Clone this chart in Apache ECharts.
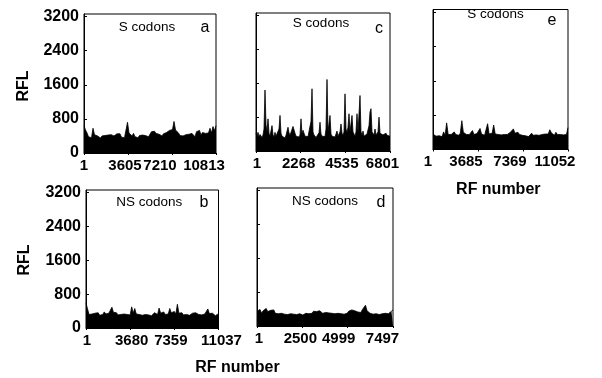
<!DOCTYPE html>
<html><head><meta charset="utf-8">
<script src="https://cdn.jsdelivr.net/npm/echarts@6/dist/echarts.min.js"></script>
<style>html,body{margin:0;padding:0;background:#fff}#chart{width:602px;height:378px}</style>
</head><body><div id="chart"></div>
<script>
// ---- data ----
const countA = 10813, countB = 11037, countC = 6801, countD = 7497, countE = 11052;
const xTicksA = [1, 3605, 7210, 10813];
const xTicksB = [1, 3680, 7359, 11037];
const xTicksC = [1, 2268, 4535, 6801];
const xTicksD = [1, 2500, 4999, 7497];
const xTicksE = [1, 3685, 7369, 11052];
const yTicks = [0, 800, 1600, 2400, 3200];

const rflA = [640,540,470,380,400,360,580,430,460,400,420,350,400,380,410,390,420,400,430,420,400,440,450,420,450,370,400,360,390,720,470,440,400,460,380,400,360,410,390,420,380,410,390,380,420,500,470,510,460,490,440,470,400,450,420,480,440,530,490,550,740,540,580,470,410,440,400,380,430,410,440,400,460,420,380,500,470,530,420,480,440,460,420,470,580,470,620,520,640];
const rflB = [590,450,320,290,330,310,350,320,360,300,340,320,380,330,310,350,320,490,370,330,360,310,340,320,290,330,360,320,340,310,500,350,460,330,360,320,340,300,330,320,350,310,330,290,320,360,330,320,470,350,330,380,320,350,330,460,360,340,390,330,560,350,320,360,310,330,320,340,300,330,350,320,360,330,320,340,310,350,330,370,450,340,320,350,310,290,320,340];
const rflC = [420,350,440,330,390,350,320,380,520,1440,620,450,760,420,350,390,600,380,330,440,350,310,370,520,840,420,350,320,340,310,370,400,560,430,370,330,390,580,560,420,350,320,360,330,380,760,400,490,420,350,320,310,340,320,370,700,1470,450,380,350,320,360,330,430,680,400,350,330,370,340,520,1690,460,420,840,400,350,330,310,330,370,470,350,400,450,640,420,370,450,1350,520,440,560,880,450,420,840,450,400,350,450,880,430,400,1310,450,380,470,350,330,370,400,380,600,920,1000,450,420,380,520,380,350,450,800,420,390,410,380,400,380,420,370,350,330,350];
const rflD = [350,330,390,300,360,320,415,340,300,370,330,380,300,320,290,270,300,260,280,250,270,260,290,250,280,260,270,250,290,270,260,280,300,270,290,330,300,350,320,340,310,360,330,300,340,320,290,310,280,300,270,290,310,300,320,290,330,280,310,300,350,330,380,340,360,400,330,370,320,390,350,490,360,330,300,320,280,310,290,300,270,300,290,280,300,270,290,320,350,380];
const rflE = [360,330,310,350,320,340,300,410,330,620,350,320,350,330,410,350,360,330,380,670,400,370,350,330,350,320,440,350,340,370,330,490,360,350,330,360,600,360,340,380,570,360,330,350,320,340,310,350,330,350,380,400,370,480,380,360,400,350,370,330,350,320,340,300,320,380,330,310,340,300,330,320,350,330,360,340,360,460,390,360,330,400,350,330,350,310,340,320,350,510];

// ---- layout ----
// labelShift: how far (px) each tick label sits left (+) / right (-) of its tick, as in the reference print
const panels = [
  {vals: rflA, n: countA, ticks: xTicksA, labelShift: [0, 3, 12, 12], grid: {left: 84, top: 14, width: 132, height: 139}, yLabels: true},
  {vals: rflC, n: countC, ticks: xTicksC, labelShift: [-1, 2, 3.5, 7.5], grid: {left: 256, top: 13, width: 134, height: 138}, yLabels: false},
  {vals: rflE, n: countE, ticks: xTicksE, labelShift: [5, 12, 13, 13], grid: {left: 433, top: 9.5, width: 135, height: 140}, yLabels: false},
  {vals: rflB, n: countB, ticks: xTicksB, labelShift: [-1, -1.5, 3.5, -3], grid: {left: 86, top: 190, width: 132.5, height: 138}, yLabels: true},
  {vals: rflD, n: countD, ticks: xTicksD, labelShift: [-2, 2, 9, 10.5], grid: {left: 257, top: 188, width: 136, height: 138}, yLabels: false}
];
const yMax = 3260;
const FONT = '"Liberation Sans", Arial, sans-serif';
const xLabelFont = {color: '#000', fontSize: 15, fontWeight: 'bold', fontFamily: FONT};
const yLabelFont = {color: '#000', fontSize: 16, fontWeight: 'bold', fontFamily: FONT};

function toPoints(vals, n) {
  return vals.map((v, i) => [1 + i * (n - 1) / (vals.length - 1), v]);
}
function richFor(p) {
  const rich = {};
  p.labelShift.forEach((s, k) => {
    rich['t' + k] = Object.assign({}, xLabelFont, {padding: s >= 0 ? [0, 2 * s, 0, 0] : [0, 0, 0, -2 * s]});
  });
  return rich;
}

const option = {
  backgroundColor: '#fff',
  animation: false,
  grid: panels.map(p => Object.assign({show: true, borderColor: '#000', borderWidth: 1, containLabel: false}, p.grid)),
  xAxis: panels.map((p, i) => ({
    type: 'value', gridIndex: i, min: 1, max: p.n,
    splitLine: {show: false},
    axisLine: {show: true, lineStyle: {color: '#000', width: 1}},
    axisTick: {show: true, inside: false, length: 2, customValues: p.ticks, lineStyle: {color: '#000'}},
    axisLabel: Object.assign({show: true, customValues: p.ticks, margin: 5, rich: richFor(p),
      formatter: v => { const k = p.ticks.indexOf(Math.round(v)); return k < 0 ? String(v) : '{t' + k + '|' + p.ticks[k] + '}'; }
    }, xLabelFont)
  })),
  yAxis: panels.map((p, i) => ({
    type: 'value', gridIndex: i, min: 0, max: yMax,
    splitLine: {show: false},
    axisLine: {show: true, lineStyle: {color: '#000', width: 1}},
    axisTick: {show: true, inside: true, length: 3, customValues: yTicks, lineStyle: {color: '#000'}},
    axisLabel: Object.assign({show: p.yLabels, customValues: yTicks, margin: 5, formatter: v => String(v)}, yLabelFont)
  })),
  series: panels.map((p, i) => ({
    type: 'line', xAxisIndex: i, yAxisIndex: i, silent: true,
    data: toPoints(p.vals, p.n), symbol: 'none',
    lineStyle: {color: '#000', width: 0.8},
    areaStyle: {color: '#000', opacity: 1}
  })),
  graphic: [
    {type: 'text', x: 147, y: 26.8, style: {text: 'S codons', font: '13.5px ' + FONT, fill: '#000', align: 'center', verticalAlign: 'middle'}},
    {type: 'text', x: 205, y: 27.5, style: {text: 'a', font: '16px ' + FONT, fill: '#000', align: 'center', verticalAlign: 'middle'}},
    {type: 'text', x: 321, y: 23.4, style: {text: 'S codons', font: '13.5px ' + FONT, fill: '#000', align: 'center', verticalAlign: 'middle'}},
    {type: 'text', x: 379, y: 28.2, style: {text: 'c', font: '16px ' + FONT, fill: '#000', align: 'center', verticalAlign: 'middle'}},
    {type: 'text', x: 495.5, y: 14.6, style: {text: 'S codons', font: '13.5px ' + FONT, fill: '#000', align: 'center', verticalAlign: 'middle'}},
    {type: 'text', x: 552, y: 20.9, style: {text: 'e', font: '16px ' + FONT, fill: '#000', align: 'center', verticalAlign: 'middle'}},
    {type: 'text', x: 149.3, y: 201.8, style: {text: 'NS codons', font: '13.5px ' + FONT, fill: '#000', align: 'center', verticalAlign: 'middle'}},
    {type: 'text', x: 204, y: 202.5, style: {text: 'b', font: '16px ' + FONT, fill: '#000', align: 'center', verticalAlign: 'middle'}},
    {type: 'text', x: 325, y: 201.1, style: {text: 'NS codons', font: '13.5px ' + FONT, fill: '#000', align: 'center', verticalAlign: 'middle'}},
    {type: 'text', x: 381, y: 202.2, style: {text: 'd', font: '16px ' + FONT, fill: '#000', align: 'center', verticalAlign: 'middle'}},
    {type: 'text', x: 23.5, y: 86, rotation: Math.PI / 2, style: {text: 'RFL', font: 'bold 16px ' + FONT, fill: '#000', align: 'center', verticalAlign: 'middle'}},
    {type: 'text', x: 25, y: 260, rotation: Math.PI / 2, style: {text: 'RFL', font: 'bold 16px ' + FONT, fill: '#000', align: 'center', verticalAlign: 'middle'}},
    {type: 'text', x: 237.5, y: 367.5, style: {text: 'RF number', font: 'bold 16px ' + FONT, fill: '#000', align: 'center', verticalAlign: 'middle'}},
    {type: 'text', x: 498.3, y: 189.2, style: {text: 'RF number', font: 'bold 16px ' + FONT, fill: '#000', align: 'center', verticalAlign: 'middle'}}
  ]
};
const chart = echarts.init(document.getElementById('chart'), null, {renderer: 'canvas'});
chart.setOption(option);
</script>
</body></html>
